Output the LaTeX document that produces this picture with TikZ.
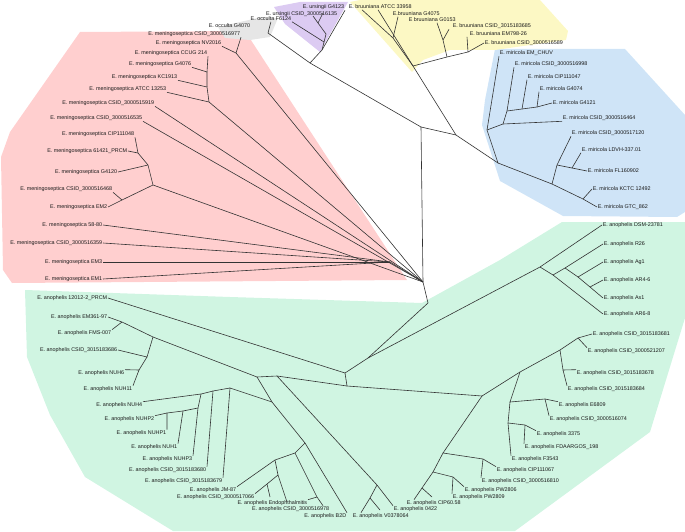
\documentclass[tikz,border=0pt]{standalone}
\usepackage{fontspec}
\setmainfont{Liberation Sans}
\usetikzlibrary{backgrounds}
\definecolor{menpink}{HTML}{FFCFCF}
\definecolor{anogreen}{HTML}{D0F5E2}
\definecolor{mirblue}{HTML}{CFE4F7}
\definecolor{bruyellow}{HTML}{FCF8C4}
\definecolor{urspurple}{HTML}{DCCBF2}
\definecolor{occgray}{HTML}{E6E6E6}
\definecolor{branchgray}{HTML}{333333}

\begin{document}
\begin{tikzpicture}[x=1pt, y=-1pt,
    br/.style={draw=branchgray, line width=0.6pt},
    labl/.style={font=\fontsize{5.4}{6}\selectfont, inner sep=0.6pt, anchor=east, text=black!90},
    labr/.style={labl, anchor=west},
    region/.style={fill=#1, draw=none},
  ]
  \useasboundingbox (0,0) rectangle (685,532);

  % =================== REGIONS ===================
  \fill[region=menpink] (80,32) -- (245,31) -- (407,280) -- (12,283) -- (3,270) -- (1,157) -- (10,132) -- cycle;
  \fill[region=anogreen] (25,290) -- (230,297) -- (422,303) -- (500,260) -- (562,222) -- (685,222)
    -- (685,318) -- (650,432) -- (515,531) -- (173,531) -- (85,477) -- (50,415) -- (27,357) -- cycle;
  \fill[region=mirblue] (495,49) -- (625,49) -- (685,115) -- (685,212) -- (677,217) -- (563,216)
    -- (500,181) -- (482,125) -- (485,100) -- cycle;
  \fill[region=bruyellow] (350,2) -- (360,0) -- (540,0) -- (568,31) -- (566,40) -- (495,50) -- (450,50)
    -- (423,60) -- (412,72) -- cycle;
  \fill[region=urspurple] (274,7) -- (300,2) -- (348,2) -- (320,52) -- (285,24) -- cycle;
  \fill[region=occgray] (218,27) -- (262,17) -- (278,18) -- (270,37) -- (250,40) -- (225,38) -- cycle;

  % =================== TRUNK ===================
  \coordinate (U) at (421,127);
  \coordinate (M) at (423,282);
  \coordinate (A) at (428,303);
  \coordinate (OU) at (310,63);
  \coordinate (B) at (456,135);
  \draw[br] (U) -- (M) -- (A);
  \draw[br] (U) -- (OU);
  \draw[br] (U) -- (B);

  % =================== OCCULTA / URSINGII ===================
  \coordinate (occ) at (268,33);
  \coordinate (urs1) at (322,50);
  \coordinate (urs2) at (324,42);
  \coordinate (urs3) at (326,34);
  \coordinate (urs4) at (318,23);
  \coordinate (urstipa) at (313,16);
  \coordinate (urstipb) at (323,13);
  \node[labl] (occ4070) at (251,26) {E. occulta G4070};
  \node[labl] (occ6124) at (292,19) {E. occulta F6124};
  \node[labl] (urs6135) at (338,14) {E. ursingii CSID\_3000516135};
  \node[labl] (urs4123) at (345,7) {E. ursingii G4123};
  \draw[br] (OU) -- (occ) -- (occ6124.south);
  \draw[br] (OU) -- (urs1) -- (urs4123.south east);
  \draw[br] (urs1) -- (urs2) -- (occ6124.south east);
  \draw[br] (urs2) -- (urs3) -- (urs4) -- (urstipa);
  \draw[br] (urs4) -- (urstipb);

  % =================== BRUUNIANA ===================
  \coordinate (bru) at (413,66);
  \coordinate (bru1) at (393,38);
  \coordinate (bru2) at (447,57);
  \coordinate (bru3) at (468,52);
  \coordinate (bru4) at (443,40);
  \node[labr] (bruATCC) at (348,7) {E. bruuniana ATCC 33958};
  \node[labr] (bru4075) at (392,14) {E.bruuniana G4075};
  \node[labr] (bru0153) at (408,20) {E bruuniana G0153};
  \node[labr] (bru3685) at (452,26) {E. bruuniana CSID\_3015183685};
  \node[labr] (bruEM798) at (469,34) {E. bruuniana EM798-26};
  \node[labr] (bru6589) at (484,43) {E. bruuniana CSID\_3000516589};
  \draw[br] (B) -- (bru) -- ([xshift=30pt]bruATCC.south west);
  \draw[br] (bru) -- (bru1) -- ([xshift=14pt]bruATCC.south west);
  \draw[br] (bru1) -- ([xshift=6pt]bru4075.south west);
  \draw[br] (bru) -- (bru2) -- (bru3) -- ([xshift=-2pt]bruEM798.south west);
  \draw[br] (bru3) -- (bru6589.west);
  \draw[br] (bru2) -- (bru4) -- ([xshift=29pt]bru0153.south west);
  \draw[br] (bru4) -- ([xshift=-3pt]bru3685.south west);

  % =================== MIRICOLA ===================
  \coordinate (mir) at (498,163);
  \coordinate (mir1) at (487,130);
  \coordinate (mir2) at (503,124);
  \coordinate (mir3) at (507,111);
  \coordinate (mir4) at (522,109);
  \coordinate (mir5) at (537,107);
  \coordinate (mir6) at (552,184);
  \coordinate (mir7) at (557,165);
  \coordinate (mir8) at (572,168);
  \coordinate (mir9) at (583,199);
  \node[labr] (mirEM) at (499,53) {E. miricola EM\_CHUV};
  \node[labr] (mir6998) at (514,64) {E. miricola CSID\_3000516998};
  \node[labr] (mirCIP) at (527,77) {E. miricola CIP111047};
  \node[labr] (mir4074) at (539,89) {E. miricola G4074};
  \node[labr] (mir4121) at (552,103) {E. miricola G4121};
  \node[labr] (mir6464) at (562,118) {E. miricola CSID\_3000516464};
  \node[labr] (mir7120) at (571,133) {E. miricola CSID\_3000517120};
  \node[labr] (mirLDVH) at (581,150) {E. miricola LDVH-337.01};
  \node[labr] (mirFL) at (587,171) {E. miricola FL160902};
  \node[labr] (mirKCTC) at (592,189) {E. miricola KCTC 12492};
  \node[labr] (mirGTC) at (597,207) {E. miricola GTC\_862};
  \draw[br] (B) -- (mir) -- (mir1) -- (mirEM.south west);
  \draw[br] (mir1) -- (mir2) -- (mir6464.south west);
  \draw[br] (mir2) -- (mir3) -- (mir6998.south west);
  \draw[br] (mir3) -- (mir4) -- (mirCIP.south west);
  \draw[br] (mir4) -- (mir5) -- (mir4074.south west);
  \draw[br] (mir5) -- (mir4121.west);
  \draw[br] (mir) -- (mir6) -- (mir7) -- (mir7120.south west);
  \draw[br] (mir7) -- (mir8) -- (mirLDVH.south west);
  \draw[br] (mir8) -- (mirFL.west);
  \draw[br] (mir6) -- (mir9) -- (mirKCTC.west);
  \draw[br] (mir9) -- (mirGTC.west);

  % =================== MENINGOSEPTICA ===================
  \coordinate (mtop) at (236,53);
  \coordinate (ma) at (209,102);
  \coordinate (mb) at (207,87);
  \coordinate (mc) at (207,72);
  \coordinate (mn1) at (138,153);
  \coordinate (mn2) at (148,165);
  \coordinate (mn3) at (153,185);
  \coordinate (mn4) at (122,200);
  \coordinate (mlow) at (390,262);
  \node[labl] (men6977) at (241,34) {E. meningoseptica CSID\_3000516977};
  \node[labl] (menNV) at (222,43) {E. meningoseptica NV2016};
  \node[labl] (menCCUG) at (208,53) {E. meningoseptica CCUG 214};
  \node[labl] (men4076) at (192,64) {E. meningoseptica G4076};
  \node[labl] (menKC) at (178,77) {E. meningoseptica KC1913};
  \node[labl] (menATCC) at (167,89) {E. meningoseptica ATCC 13253};
  \node[labl] (men5919) at (155,103) {E. meningoseptica CSID\_3000515919};
  \node[labl] (men6535) at (143,118) {E. meningoseptica CSID\_3000516535};
  \node[labl] (menCIP) at (135,134) {E. meningoseptica CIP111048};
  \node[labl] (men61421) at (128,151) {E. meningoseptica 61421\_PRCM};
  \node[labl] (men4120) at (118,172) {E. meningoseptica G4120};
  \node[labl] (men6468) at (113,189) {E. meningoseptica CSID\_3000516468};
  \node[labl] (menEM2) at (108,207) {E. meningoseptica EM2};
  \node[labl] (men5880) at (103,225) {E. meningoseptica 58-80};
  \node[labl] (men6359) at (103,243) {E. meningoseptica CSID\_3000516359};
  \node[labl] (menEM3) at (103,262) {E. meningoseptica EM3};
  \node[labl] (menEM1) at (103,279) {E. meningoseptica EM1};
  \draw[br] (M) -- (mtop) -- (men6977.south east);
  \draw[br] (mtop) -- (menNV.south east);
  \draw[br] (M) -- (ma) -- (menATCC.south east);
  \draw[br] (ma) -- (mb) -- (menKC.south east);
  \draw[br] (mb) -- (mc) -- (men4076.south east);
  \draw[br] (mc) -- (menCCUG.south east);
  \draw[br] (M) -- (men5919.south east);
  \draw[br] (M) -- (men6535.south east);
  \draw[br] (M) -- (mn3) -- (mn2) -- (mn1) -- (menCIP.south east);
  \draw[br] (mn1) -- (men61421.east);
  \draw[br] (mn2) -- (men4120.east);
  \draw[br] (mn3) -- (mn4) -- (men6468.south east);
  \draw[br] (mn4) -- (menEM2.east);
  \draw[br] (M) -- (mlow) -- (men5880.east);
  \draw[br] (mlow) -- (men6359.east);
  \draw[br] (mlow) -- (menEM3.east);
  \draw[br] (mlow) -- (menEM1.east);

  % =================== ANOPHELIS ===================
  \coordinate (a1) at (368,358);
  \coordinate (a2) at (345,373);
  \coordinate (a3) at (347,386);
  \coordinate (a4) at (482,396);
  \coordinate (a5) at (153,337);
  \coordinate (a6) at (147,357);
  \coordinate (a7) at (139,370);
  \coordinate (a8) at (257,377);
  \coordinate (a9) at (277,376);
  \coordinate (a10) at (272,402);
  \coordinate (a11) at (305,443);
  \coordinate (ae1) at (122,322);
  \draw[br] (A) -- (a1) -- (a2) -- (a3) -- (a4);
  \draw[br] (a3) -- (a9) -- (a8) -- (a5);
  \draw[br] (a8) -- (a10) -- (a11);

  % upper right group
  \coordinate (ar1) at (540,267);
  \coordinate (ar2) at (553,275);
  \coordinate (ar3) at (565,268);
  \coordinate (ar4) at (578,277);
  \coordinate (ar5) at (590,287);
  \node[labr] (anoDSM) at (602,225) {E. anophelis DSM-23781};
  \node[labr] (anoR26) at (603,244) {E. anophelis R26};
  \node[labr] (anoAg1) at (603,262) {E. anophelis Ag1};
  \node[labr] (anoAR46) at (603,280) {E. anophelis AR4-6};
  \node[labr] (anoAs1) at (603,298) {E. anophelis As1};
  \node[labr] (anoAR68) at (603,314) {E. anophelis AR6-8};
  \draw[br] (a1) -- (ar1) -- (anoDSM.west);
  \draw[br] (ar1) -- (ar2) -- (anoAR68.west);
  \draw[br] (ar2) -- (ar3) -- (anoR26.west);
  \draw[br] (ar3) -- (ar4) -- (anoAg1.west);
  \draw[br] (ar4) -- (ar5) -- (anoAR46.west);
  \draw[br] (ar5) -- (anoAs1.west);

  % lower right group
  \coordinate (c1) at (520,372);
  \coordinate (c2) at (560,350);
  \coordinate (c3) at (578,338);
  \coordinate (c4) at (563,370);
  \coordinate (c5) at (510,402);
  \coordinate (c6) at (508,423);
  \coordinate (c7) at (545,399);
  \coordinate (c8) at (525,425);
  \coordinate (d1) at (443,453);
  \coordinate (d1a) at (483,459);
  \coordinate (d2) at (433,472);
  \coordinate (d2a) at (453,477);
  \coordinate (d3) at (422,488);
  \coordinate (d3x) at (432,497);
  \node[labr] (ano3681) at (592,334) {E. anophelis CSID\_3015183681};
  \node[labr] (ano1207) at (587,351) {E. anophelis CSID\_3000521207};
  \node[labr] (ano3678) at (576,373) {E. anophelis CSID\_3015183678};
  \node[labr] (ano3684) at (567,389) {E. anophelis CSID\_3015183684};
  \node[labr] (anoE6809) at (558,405) {E. anophelis E6809};
  \node[labr] (ano6074) at (549,419) {E. anophelis CSID\_3000516074};
  \node[labr] (ano3375) at (536,434) {E. anophelis 3375};
  \node[labr] (anoFDA) at (524,447) {E. anophelis FDAARGOS\_198};
  \node[labr] (anoF3543) at (511,459) {E. anophelis F3543};
  \node[labr] (anoCIP067) at (496,470) {E. anophelis CIP111067};
  \node[labr] (ano6810) at (481,481) {E. anophelis CSID\_3000516810};
  \node[labr] (anoPW06) at (464,490) {E. anophelis PW2806};
  \node[labr] (anoPW09) at (452,497) {E. anophelis PW2809};
  \node[labr] (anoCIP60) at (406,503) {E. anophelis CIP60.58};
  \node[labr] (ano0422) at (393,509) {E. anophelis 0422};
  \draw[br] (a4) -- (c1) -- (c2) -- (c3) -- (ano3681.west);
  \draw[br] (c3) -- (ano1207.north west);
  \draw[br] (c2) -- (c4) -- (ano3678.north west);
  \draw[br] (c4) -- (ano3684.north west);
  \draw[br] (c1) -- (c5) -- (c7) -- (anoE6809.north west);
  \draw[br] (c7) -- (ano6074.north west);
  \draw[br] (c5) -- (c6) -- (c8) -- (ano3375.north west);
  \draw[br] (c8) -- (anoFDA.north west);
  \draw[br] (c6) -- (anoF3543.north west);
  \draw[br] (a4) -- (d1) -- (d1a) -- (anoCIP067.north west);
  \draw[br] (d1a) -- (ano6810.north west);
  \draw[br] (d1) -- (d2) -- (d2a) -- (anoPW06.north west);
  \draw[br] (d2a) -- (anoPW09.north west);
  \draw[br] (d2) -- (d3) -- ([xshift=8pt]anoCIP60.north west);
  \draw[br] (d3) -- (d3x);

  % left group
  \node[labl] (ano12012) at (108,298) {E. anophelis 12012-2\_PRCM};
  \node[labl] (anoEM361) at (108,317) {E. anophelis EM361-97};
  \node[labl] (anoFMS) at (112,333) {E. anophelis FMS-007};
  \node[labl] (ano3686) at (118,350) {E. anophelis CSID\_3015183686};
  \node[labl] (anoNUH6) at (125,373) {E. anophelis NUH6};
  \node[labl] (anoNUH11) at (133,389) {E. anophelis NUH11};
  \draw[br] (a2) -- (ano12012.east);
  \draw[br] (a5) -- (ae1) -- (anoEM361.east);
  \draw[br] (ae1) -- (anoFMS.north east);
  \draw[br] (a5) -- (a6) -- (ano3686.east);
  \draw[br] (a6) -- (a7) -- (anoNUH6.north east);
  \draw[br] (a7) -- (anoNUH11.north east);

  % NUH ladder
  \coordinate (na) at (230,388);
  \coordinate (nb) at (213,391);
  \coordinate (nc) at (201,394);
  \coordinate (nd) at (198,408);
  \coordinate (ne) at (183,411);
  \coordinate (nf) at (167,413);
  \node[labl] (anoNUH4) at (143,405) {E. anophelis NUH4};
  \node[labl] (anoNUHP2) at (155,419) {E. anophelis NUHP2};
  \node[labl] (anoNUHP1) at (167,433) {E. anophelis NUHP1};
  \node[labl] (anoNUH1) at (178,447) {E. anophelis NUH1};
  \node[labl] (anoNUHP3) at (193,459) {E. anophelis NUHP3};
  \node[labl] (ano3680) at (207,470) {E. anophelis CSID\_3015183680};
  \node[labl] (ano3679) at (223,481) {E. anophelis CSID\_3015183679};
  \draw[br] (a10) -- (na) -- (ano3679.north east);
  \draw[br] (na) -- (nb) -- (ano3680.north east);
  \draw[br] (nb) -- (nc) -- (anoNUH4.north east);
  \draw[br] (nc) -- (nd) -- (anoNUHP3.north east);
  \draw[br] (nd) -- (ne) -- (anoNUH1.north east);
  \draw[br] (ne) -- (nf) -- (anoNUHP1.north east);
  \draw[br] (nf) -- (anoNUHP2.north east);

  % bottom group
  \coordinate (bs) at (295,453);
  \coordinate (bp) at (275,460);
  \coordinate (bq) at (278,475);
  \coordinate (bk) at (267,484);
  \coordinate (bt) at (317,497);
  \coordinate (bkx) at (270,497);
  \coordinate (bqx) at (287,502);
  \coordinate (vn) at (377,485);
  \coordinate (vn2) at (370,498);
  \coordinate (vnx) at (380,510);
  \node[labl] (anoJM) at (237,490) {E. anophelis JM-87};
  \node[labl] (ano7066) at (255,497) {E. anophelis CSID\_3000517066};
  \node[labl] (anoEndo) at (308,503) {E. anophelis Endophthalmitis};
  \node[labl] (ano6978) at (330,509) {E. anophelis CSID\_3000516978};
  \node[labl] (anoB2D) at (347,516) {E. anophelis B2D};
  \node[labr] (anoV) at (352,516) {E. anophelis V0378064};
  \draw[br] (a11) -- (anoB2D.north east);
  \draw[br] (a11) -- (bs) -- (bp) -- (anoJM.north east);
  \draw[br] (bp) -- (bq) -- (bk) -- (ano7066.north east);
  \draw[br] (bk) -- (bkx);
  \draw[br] (bq) -- (bqx);
  \draw[br] (bs) -- (bt) -- ([xshift=-7pt]ano6978.north east);
  \draw[br] (bt) -- (anoEndo.north east);
  \draw[br] (a9) -- (vn) -- (ano0422.north west);
  \draw[br] (vn) -- (vn2) -- ([xshift=9pt]anoV.north west);
  \draw[br] (vn2) -- (vnx);

\end{tikzpicture}
\end{document}
